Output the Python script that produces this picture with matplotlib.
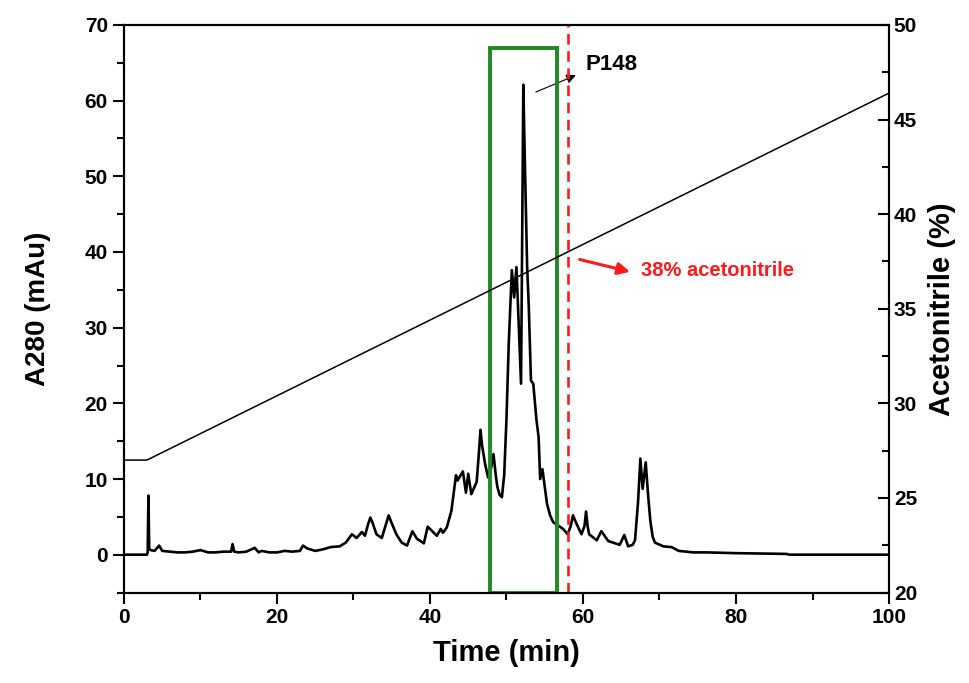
import matplotlib
matplotlib.use("Agg")
import matplotlib.pyplot as plt
from matplotlib.ticker import MultipleLocator
from matplotlib.patches import Rectangle

plt.rcParams["font.family"] = ["Liberation Sans", "DejaVu Sans"]
plt.rcParams["font.weight"] = "bold"

# A280 chromatogram
time_min = [0, 3.0, 3.1, 3.2, 3.3, 3.5, 4.0, 4.6, 5.0, 6, 7, 8, 9, 10, 11, 12, 13,
            14.0, 14.2, 14.4, 15, 16, 17.1, 17.6, 18, 19, 20, 21, 22, 23.0, 23.4,
            24, 25, 26, 27, 28.2, 29.0, 29.8, 30.4, 31.1, 31.5, 31.9, 32.2, 32.5,
            33.0, 33.7, 34.3, 34.6, 34.9, 35.6, 36.3, 37.0, 37.7, 38.3, 39.2, 39.7,
            40.9, 41.4, 41.7, 42.2, 42.8, 43.4, 43.6, 44.3, 44.7, 45.0, 45.4, 46.1,
            46.4, 46.6, 46.8, 47.2, 47.6, 48.0, 48.3, 48.6, 48.8, 49.1, 49.4, 49.7,
            50.0, 50.3, 50.7, 51.0, 51.3, 51.5, 51.9, 52.0, 52.2, 52.4, 52.7, 52.9,
            53.2, 53.5, 53.9, 54.2, 54.4, 54.7, 55.0, 55.3, 55.7, 56.1, 57.4, 58.0,
            58.4, 58.7, 59.1, 59.8, 60.2, 60.4, 60.6, 60.8, 61.8, 62.4, 63.3, 64.8,
            65.4, 65.9, 66.5, 66.8, 67.2, 67.5, 67.8, 68.2, 68.5, 68.8, 69.1, 69.4,
            70.5, 71.6, 72.5, 74.4, 76.2, 80, 86.6, 87, 100]
a280 = [0, 0, 0.3, 7.8, 0.8, 0.6, 0.5, 1.2, 0.5, 0.4, 0.3, 0.3, 0.4, 0.6, 0.3, 0.3, 0.4,
        0.4, 1.4, 0.4, 0.3, 0.4, 0.9, 0.3, 0.5, 0.3, 0.3, 0.5, 0.4, 0.5, 1.2,
        0.8, 0.5, 0.7, 1.0, 1.1, 1.6, 2.7, 2.2, 3.0, 2.5, 4.0, 4.9, 4.2,
        2.7, 2.2, 4.2, 5.2, 4.4, 2.7, 1.6, 1.2, 3.1, 2.1, 1.5, 3.7,
        2.5, 3.4, 2.9, 3.6, 5.8, 10.5, 9.8, 11.0, 8.2, 10.7, 8.0, 9.6,
        13.5, 16.5, 14.5, 12.0, 10.2, 11.5, 13.3, 10.5, 9.0, 7.9, 7.6, 10.5,
        18.0, 28.0, 37.6, 34.0, 38.0, 33.0, 22.6, 35.0, 62.1, 52.0, 38.0, 33.2,
        23.0, 22.6, 18.0, 15.5, 10.0, 11.3, 9.0, 6.7, 5.2, 4.3, 3.4, 2.7,
        3.8, 5.2, 4.2, 2.7, 3.8, 5.7, 3.8, 2.7, 1.9, 3.1, 1.8, 1.3,
        2.6, 1.1, 1.3, 1.9, 7.0, 12.7, 8.7, 12.2, 8.0, 4.5, 2.4, 1.6,
        1.1, 1.0, 0.5, 0.3, 0.3, 0.2, 0.1, 0, 0]

# acetonitrile gradient (%)
grad_time = [0, 3, 100]
grad_acn = [27, 27, 46.4]

# collected fraction window and marker
box_start, box_end, box_top = 47.8, 56.6, 67.0
marker_time = 58.0

fig = plt.figure(figsize=(9.7, 6.83), dpi=100)
ax = fig.add_axes([0.1278, 0.1325, 0.7887, 0.8309])
ax2 = ax.twinx()

ax.plot(time_min, a280, color="black", lw=1.9, zorder=3)
ax2.plot(grad_time, grad_acn, color="black", lw=1.1)

ax.set_xlim(0, 100)
ax.set_ylim(-5, 70)
ax2.set_ylim(20, 50)

ax.add_patch(Rectangle((box_start, -5), box_end - box_start, box_top + 5,
                       fill=False, edgecolor="#1f8a1f", lw=2.8, zorder=4))
ax.axvline(marker_time, color="#ff1a1a", lw=1.9, ls=(0, (4, 2.5)), zorder=4)

ax.annotate("", xy=(59.4, 63.5), xytext=(53.5, 61.0),
            arrowprops=dict(arrowstyle="-|>", color="black", lw=0.8,
                            mutation_scale=14))
ax.text(60.3, 64.8, "P148", fontsize=16, fontweight="bold", va="center", ha="left")
ax.annotate("", xy=(66.5, 37.3), xytext=(59.2, 39.1),
            arrowprops=dict(arrowstyle="-|>", color="#ff1a1a", lw=2.2,
                            mutation_scale=18))
ax.text(67.6, 37.6, "38% acetonitrile", fontsize=14.5, fontweight="bold",
        color="#ff1a1a", va="center", ha="left")

ax.xaxis.set_major_locator(MultipleLocator(20))
ax.xaxis.set_minor_locator(MultipleLocator(10))
ax.yaxis.set_major_locator(MultipleLocator(10))
ax.yaxis.set_minor_locator(MultipleLocator(5))
ax2.yaxis.set_major_locator(MultipleLocator(5))
ax2.yaxis.set_minor_locator(MultipleLocator(2.5))

ax.tick_params(axis="both", which="major", direction="out", length=8, width=1.5,
               labelsize=15)
ax.tick_params(axis="both", which="minor", direction="out", length=5, width=1.5)
ax2.tick_params(axis="y", which="major", direction="in", length=8, width=1.5,
                labelsize=15)
ax2.tick_params(axis="y", which="minor", direction="in", length=5, width=1.5)
for a in (ax, ax2):
    for s in a.spines.values():
        s.set_linewidth(1.5)
    for lab in a.get_xticklabels() + a.get_yticklabels():
        lab.set_fontweight("bold")

ax.set_xlabel("Time (min)", fontsize=21, fontweight="bold", labelpad=8)
ax.set_ylabel("A280 (mAu)", fontsize=20, fontweight="bold", labelpad=24)
ax2.set_ylabel("Acetonitrile (%)", fontsize=21, fontweight="bold", labelpad=8)

fig.savefig("out.png", dpi=100)
